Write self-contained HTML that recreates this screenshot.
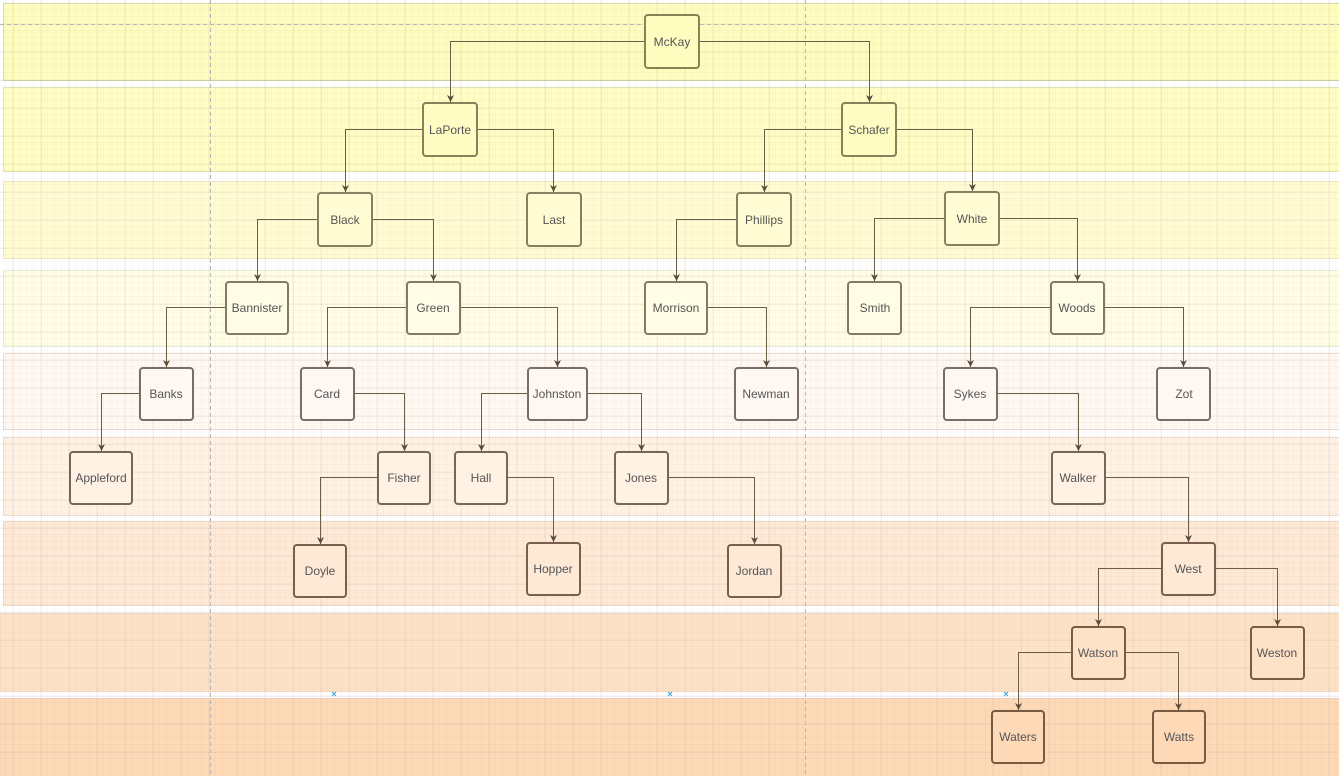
<!DOCTYPE html>
<html><head><meta charset="utf-8"><style>
html,body{margin:0;padding:0;background:#fff;width:1339px;height:776px;overflow:hidden}
svg{display:block}
text{font-family:"Liberation Sans",sans-serif;font-size:12px;fill:#555;text-anchor:middle;dominant-baseline:central}
</style></head><body>
<svg width="1339" height="776" viewBox="0 0 1339 776" xmlns="http://www.w3.org/2000/svg">
<defs>
<pattern id="gm" x="13" y="24" width="7" height="7" patternUnits="userSpaceOnUse"><path d="M7 0V7M0 7H7" stroke="#8a7a50" stroke-opacity="0.09" fill="none" stroke-width="1"/></pattern>
<pattern id="gM" x="13.5" y="24.5" width="28" height="28" patternUnits="userSpaceOnUse"><path d="M0 0V28M0 0H28" stroke="#7a7060" stroke-opacity="0.2" fill="none" stroke-width="1"/></pattern>
<marker id="a" markerWidth="8" markerHeight="8" refX="7" refY="4" orient="auto" markerUnits="userSpaceOnUse"><path d="M0 0.5 L7 4 L0 7.5 L2 4 Z" fill="#5a4a3a"/></marker>
</defs>
<g stroke-width="1">
<rect x="3.5" y="3.5" width="1340" height="77" fill="#fffcc0" stroke="#d6dcaa"/>
<rect x="3.5" y="87.5" width="1340" height="84" fill="#fffcc4" stroke="#e2e2b8"/>
<rect x="3.5" y="181.5" width="1340" height="77" fill="#fffcd4" stroke="#e6e6c8"/>
<rect x="3.5" y="270.5" width="1340" height="76" fill="#fffde6" stroke="#e8e8d8"/>
<rect x="3.5" y="353.5" width="1340" height="76" fill="#fff8f2" stroke="#ecdcd8"/>
<rect x="3.5" y="437.5" width="1340" height="78" fill="#fff1e4" stroke="#eedcd0"/>
<rect x="3.5" y="521.5" width="1340" height="84" fill="#fee8d6" stroke="#eed8c8"/>
<rect x="0" y="613.5" width="1340" height="78" fill="#fee2c8" stroke="#eed6c0"/>
<rect x="0" y="698.5" width="1340" height="78" fill="#fdd9b8" stroke="#eed0b8"/>
</g>
<rect x="0" y="0" width="1339" height="776" fill="url(#gm)"/>
<rect x="0" y="0" width="1339" height="776" fill="url(#gM)"/>
<g stroke="#b8b8b8" stroke-dasharray="4,3" stroke-width="1">
<line x1="210.5" y1="0" x2="210.5" y2="776"/><line x1="805.5" y1="0" x2="805.5" y2="776"/>
<line x1="0" y1="24.5" x2="1339" y2="24.5"/>
</g>
<g stroke="#6a5e48" stroke-width="1" fill="none" marker-end="url(#a)">
<path d="M645 41.5H450.5V102"/><path d="M699 41.5H869.5V102"/>
<path d="M423 129.5H345.5V192"/><path d="M477 129.5H553.5V192"/>
<path d="M842 129.5H764.5V192"/><path d="M896 129.5H972.5V191"/>
<path d="M318 219.5H257.5V281"/><path d="M372 219.5H433.5V281"/>
<path d="M737 219.5H676.5V281"/>
<path d="M945 218.5H874.5V281"/><path d="M999 218.5H1077.5V281"/>
<path d="M226 307.5H166.5V367"/><path d="M406 307.5H327.5V367"/><path d="M460 307.5H557.5V367"/>
<path d="M707 307.5H766.5V367"/>
<path d="M1050 307.5H970.5V367"/><path d="M1104 307.5H1183.5V367"/>
<path d="M139 393.5H101.5V451"/><path d="M354 393.5H404.5V451"/>
<path d="M527 393.5H481.5V451"/><path d="M587 393.5H641.5V451"/>
<path d="M997 393.5H1078.5V451"/>
<path d="M377 477.5H320.5V544"/><path d="M508 477.5H553.5V542"/><path d="M668 477.5H754.5V544"/>
<path d="M1105 477.5H1188.5V542"/>
<path d="M1161 568.5H1098.5V626"/><path d="M1215 568.5H1277.5V626"/>
<path d="M1071 652.5H1018.5V710"/><path d="M1125 652.5H1178.5V710"/>
</g>
<g stroke-width="2">
<g fill="#fffcc0" stroke="#8a8254">
<rect x="645" y="15" width="54" height="53" rx="3"/>
</g>
<g fill="#fffcc4" stroke="#888058">
<rect x="423" y="103" width="54" height="53" rx="3"/><rect x="842" y="103" width="54" height="53" rx="3"/>
</g>
<g fill="#fffcd4" stroke="#858060">
<rect x="318" y="193" width="54" height="53" rx="3"/><rect x="527" y="193" width="54" height="53" rx="3"/>
<rect x="737" y="193" width="54" height="53" rx="3"/><rect x="945" y="192" width="54" height="53" rx="3"/>
</g>
<g fill="#fffde6" stroke="#807a66">
<rect x="226" y="282" width="62" height="52" rx="3"/><rect x="407" y="282" width="53" height="52" rx="3"/>
<rect x="645" y="282" width="62" height="52" rx="3"/><rect x="848" y="282" width="53" height="52" rx="3"/>
<rect x="1051" y="282" width="53" height="52" rx="3"/>
</g>
<g fill="#fff8f2" stroke="#7a6c66">
<rect x="140" y="368" width="53" height="52" rx="3"/><rect x="301" y="368" width="53" height="52" rx="3"/>
<rect x="528" y="368" width="59" height="52" rx="3"/><rect x="735" y="368" width="63" height="52" rx="3"/>
<rect x="944" y="368" width="53" height="52" rx="3"/><rect x="1157" y="368" width="53" height="52" rx="3"/>
</g>
<g fill="#fff1e4" stroke="#7a6656">
<rect x="70" y="452" width="62" height="52" rx="3"/><rect x="378" y="452" width="52" height="52" rx="3"/>
<rect x="455" y="452" width="52" height="52" rx="3"/><rect x="615" y="452" width="53" height="52" rx="3"/>
<rect x="1052" y="452" width="53" height="52" rx="3"/>
</g>
<g fill="#fee8d6" stroke="#7a604c">
<rect x="294" y="545" width="52" height="52" rx="3"/><rect x="527" y="543" width="53" height="52" rx="3"/>
<rect x="728" y="545" width="53" height="52" rx="3"/><rect x="1162" y="543" width="53" height="52" rx="3"/>
</g>
<g fill="#fee2c8" stroke="#785c46">
<rect x="1072" y="627" width="53" height="52" rx="3"/><rect x="1251" y="627" width="53" height="52" rx="3"/>
</g>
<g fill="#fdd9b8" stroke="#785a42">
<rect x="992" y="711" width="52" height="52" rx="3"/><rect x="1153" y="711" width="52" height="52" rx="3"/>
</g>
</g>
<g>
<text x="672" y="42">McKay</text>
<text x="450" y="130">LaPorte</text><text x="869" y="130">Schafer</text>
<text x="345" y="220">Black</text><text x="554" y="220">Last</text><text x="764" y="220">Phillips</text><text x="972" y="219">White</text>
<text x="257" y="308">Bannister</text><text x="433" y="308">Green</text><text x="676" y="308">Morrison</text><text x="875" y="308">Smith</text><text x="1077" y="308">Woods</text>
<text x="166" y="394">Banks</text><text x="327" y="394">Card</text><text x="557" y="394">Johnston</text><text x="766" y="394">Newman</text><text x="970" y="394">Sykes</text><text x="1184" y="394">Zot</text>
<text x="101" y="478">Appleford</text><text x="404" y="478">Fisher</text><text x="481" y="478">Hall</text><text x="641" y="478">Jones</text><text x="1078" y="478">Walker</text>
<text x="320" y="571">Doyle</text><text x="553" y="569">Hopper</text><text x="754" y="571">Jordan</text><text x="1188" y="569">West</text>
<text x="1098" y="653">Watson</text><text x="1277" y="653">Weston</text>
<text x="1018" y="737">Waters</text><text x="1179" y="737">Watts</text>
</g>
<g stroke="#3aa0d8" stroke-width="1">
<path d="M332 692l4 4M336 692l-4 4M668 692l4 4M672 692l-4 4M1004 692l4 4M1008 692l-4 4"/>
</g>
</svg>
</body></html>
